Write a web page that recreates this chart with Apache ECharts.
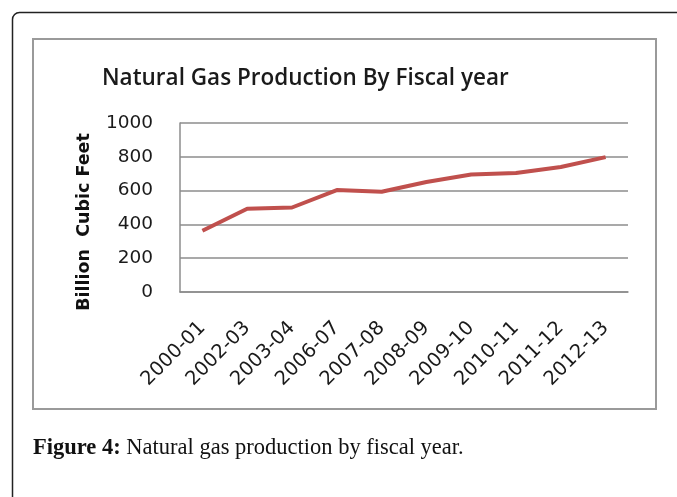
<!DOCTYPE html>
<html>
<head>
<meta charset="utf-8">
<script src="https://cdn.jsdelivr.net/npm/echarts@6/dist/echarts.min.js"></script>
<style>
html,body{margin:0;padding:0;background:#fff;}
#chart{width:677px;height:497px;}
</style>
</head>
<body>
<div id="chart"></div>
<script>
const categories = ['2000-01','2002-03','2003-04','2006-07','2007-08','2008-09','2009-10','2010-11','2011-12','2012-13'];
const production = [362, 493, 500, 603, 593, 651, 695, 704, 740, 798];
const yTicks = {min: 0, max: 1000, interval: 200};
const chartTitle = 'Natural Gas Production By Fiscal year';
const yAxisTitle = 'Billion  Cubic Feet';
const captionBold = 'Figure 4:';
const captionText = ' Natural gas production by fiscal year.';

const chart = echarts.init(document.getElementById('chart'), null, {renderer: 'canvas'});
chart.setOption({
  animation: false,
  backgroundColor: '#ffffff',
  title: {
    text: chartTitle,
    left: 97, top: 62,
    textStyle: {fontFamily: 'Open Sans', fontWeight: 600, fontSize: 22.5, color: '#1a1a1a'}
  },
  grid: {left: 180, right: 49, top: 123, bottom: 205, containLabel: false},
  xAxis: {
    type: 'category',
    data: categories,
    boundaryGap: true,
    axisLine: {show: true, lineStyle: {color: '#8c8c8c', width: 1.5}},
    axisTick: {show: false},
    axisLabel: {
      rotate: 45, margin: 33, interval: 0,
      fontFamily: 'DejaVu Sans', fontSize: 19.5, color: '#1a1a1a'
    },
    splitLine: {show: false}
  },
  yAxis: {
    type: 'value',
    min: yTicks.min, max: yTicks.max, interval: yTicks.interval,
    axisLine: {show: true, lineStyle: {color: '#8c8c8c', width: 1.5}},
    axisTick: {show: false},
    axisLabel: {margin: 27, fontFamily: 'DejaVu Sans', fontSize: 18.5, color: '#1a1a1a',
                formatter: function (v) { return String(v); }},
    splitLine: {show: true, lineStyle: {color: '#8c8c8c', width: 1.5}}
  },
  series: [{
    type: 'line',
    data: production,
    symbol: 'none',
    lineStyle: {color: '#C0504D', width: 4},
    itemStyle: {color: '#C0504D'}
  }],
  graphic: [
    {type: 'rect', shape: {x: 12.5, y: 12.5, width: 720, height: 520, r: 7},
     style: {fill: 'none', stroke: '#222', lineWidth: 1.5}, silent: true},
    {type: 'rect', shape: {x: 33, y: 39, width: 623, height: 370},
     style: {fill: 'none', stroke: '#9a9a9a', lineWidth: 2}, silent: true},
    {type: 'text', x: 84, y: 222, rotation: Math.PI / 2,
     style: {text: yAxisTitle, fontFamily: 'DejaVu Sans', fontWeight: 'bold', fontSize: 17.5,
             fill: '#111', textAlign: 'center', textVerticalAlign: 'middle'}},
    {type: 'text', x: 33, y: 437,
     style: {
       text: '{b|' + captionBold + '}{r|' + captionText + '}',
       rich: {
         b: {fontFamily: 'Liberation Serif', fontWeight: 'bold', fontSize: 22.5, fill: '#111'},
         r: {fontFamily: 'Liberation Serif', fontSize: 22.5, fill: '#111'}
       },
       fill: '#111', textVerticalAlign: 'top'
     }}
  ]
});
</script>
</body>
</html>
